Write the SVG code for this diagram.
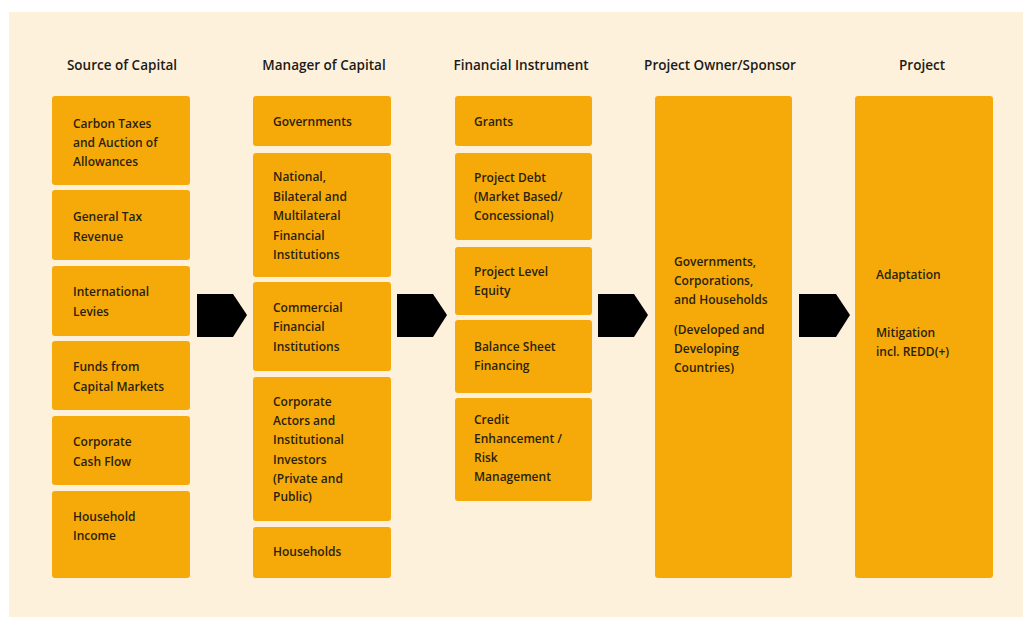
<svg xmlns="http://www.w3.org/2000/svg" width="1023" height="624" viewBox="0 0 1023 624">
<style>
.bg{fill:#fdf1dc}
.box{fill:#f6aa0a}
.h{font-family:"Open Sans","Liberation Sans",sans-serif;font-size:13.5px;font-weight:600;fill:#1c1a16;text-anchor:middle}
.t{font-family:"Open Sans","Liberation Sans",sans-serif;font-size:12px;font-weight:600;fill:#2a1f0a}
.arr{fill:#000}
</style>
<rect x="0" y="0" width="1023" height="624" fill="#ffffff"/>
<rect class="bg" x="9" y="12" width="1014" height="605"/>

<g id="headings">
<text class="h" x="122" y="70">Source of Capital</text>
<text class="h" x="324" y="70">Manager of Capital</text>
<text class="h" x="521" y="70">Financial Instrument</text>
<text class="h" x="720" y="70">Project Owner/Sponsor</text>
<text class="h" x="922" y="70">Project</text>
</g>

<g id="src-carbon"><rect class="box" x="52" y="96" width="138" height="89" rx="3"/><text class="t" x="73" y="128">Carbon Taxes</text><text class="t" x="73" y="147">and Auction of</text><text class="t" x="73" y="166">Allowances</text></g>
<g id="src-tax"><rect class="box" x="52" y="190" width="138" height="70" rx="3"/><text class="t" x="73" y="221">General Tax</text><text class="t" x="73" y="241">Revenue</text></g>
<g id="src-levies"><rect class="box" x="52" y="266" width="138" height="70" rx="3"/><text class="t" x="73" y="296">International</text><text class="t" x="73" y="316">Levies</text></g>
<g id="src-funds"><rect class="box" x="52" y="341" width="138" height="69" rx="3"/><text class="t" x="73" y="371">Funds from</text><text class="t" x="73" y="391">Capital Markets</text></g>
<g id="src-cash"><rect class="box" x="52" y="416" width="138" height="69" rx="3"/><text class="t" x="73" y="446">Corporate</text><text class="t" x="73" y="466">Cash Flow</text></g>
<g id="src-household"><rect class="box" x="52" y="491" width="138" height="87" rx="3"/><text class="t" x="73" y="521">Household</text><text class="t" x="73" y="540">Income</text></g>

<g id="mgr-gov"><rect class="box" x="253" y="96" width="138" height="50" rx="3"/><text class="t" x="273" y="126">Governments</text></g>
<g id="mgr-national"><rect class="box" x="253" y="153" width="138" height="124" rx="3"/><text class="t" x="273" y="181">National,</text><text class="t" x="273" y="201">Bilateral and</text><text class="t" x="273" y="220">Multilateral</text><text class="t" x="273" y="240">Financial</text><text class="t" x="273" y="259">Institutions</text></g>
<g id="mgr-commercial"><rect class="box" x="253" y="282" width="138" height="89" rx="3"/><text class="t" x="273" y="312">Commercial</text><text class="t" x="273" y="331">Financial</text><text class="t" x="273" y="351">Institutions</text></g>
<g id="mgr-corporate"><rect class="box" x="253" y="377" width="138" height="144" rx="3"/><text class="t" x="273" y="406">Corporate</text><text class="t" x="273" y="425">Actors and</text><text class="t" x="273" y="444">Institutional</text><text class="t" x="273" y="464">Investors</text><text class="t" x="273" y="483">(Private and</text><text class="t" x="273" y="501">Public)</text></g>
<g id="mgr-households"><rect class="box" x="253" y="527" width="138" height="51" rx="3"/><text class="t" x="273" y="556">Households</text></g>

<g id="fin-grants"><rect class="box" x="455" y="96" width="137" height="50" rx="3"/><text class="t" x="474" y="126">Grants</text></g>
<g id="fin-debt"><rect class="box" x="455" y="153" width="137" height="87" rx="3"/><text class="t" x="474" y="182">Project Debt</text><text class="t" x="474" y="201">(Market Based/</text><text class="t" x="474" y="220">Concessional)</text></g>
<g id="fin-equity"><rect class="box" x="455" y="247" width="137" height="68" rx="3"/><text class="t" x="474" y="276">Project Level</text><text class="t" x="474" y="295">Equity</text></g>
<g id="fin-balance"><rect class="box" x="455" y="320" width="137" height="73" rx="3"/><text class="t" x="474" y="351">Balance Sheet</text><text class="t" x="474" y="370">Financing</text></g>
<g id="fin-credit"><rect class="box" x="455" y="398" width="137" height="103" rx="3"/><text class="t" x="474" y="424">Credit</text><text class="t" x="474" y="443">Enhancement /</text><text class="t" x="474" y="462">Risk</text><text class="t" x="474" y="481">Management</text></g>

<g id="owner"><rect class="box" x="655" y="96" width="137" height="482" rx="3"/><text class="t" x="674" y="266">Governments,</text><text class="t" x="674" y="285">Corporations,</text><text class="t" x="674" y="304">and Households</text><text class="t" x="674" y="334">(Developed and</text><text class="t" x="674" y="353">Developing</text><text class="t" x="674" y="372">Countries)</text></g>

<g id="project"><rect class="box" x="855" y="96" width="138" height="482" rx="3"/><text class="t" x="876" y="279">Adaptation</text><text class="t" x="876" y="337">Mitigation</text><text class="t" x="876" y="356">incl. REDD(+)</text></g>

<g id="connectors">
<polygon class="arr" points="197,294 233,294 247,315 233,337 197,337"/>
<polygon class="arr" points="397,294 433,294 447,315 433,337 397,337"/>
<polygon class="arr" points="598,294 634,294 648,315 634,337 598,337"/>
<polygon class="arr" points="799,294 836,294 850,315 836,337 799,337"/>
</g>
</svg>
